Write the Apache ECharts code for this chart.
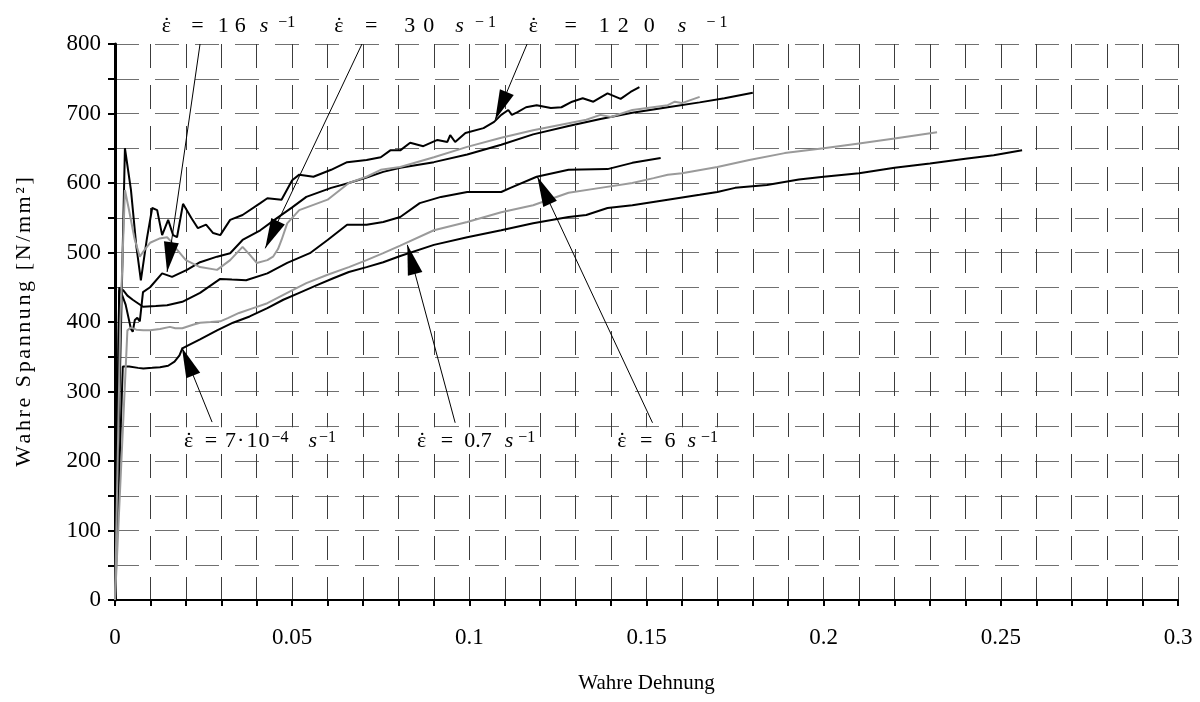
<!DOCTYPE html>
<html>
<head>
<meta charset="utf-8">
<script src="https://cdn.jsdelivr.net/npm/echarts@6/dist/echarts.min.js"></script>
<style>
  html, body { margin: 0; padding: 0; background: #fff; }
  #chart { width: 1200px; height: 702px; }
</style>
</head>
<body>
<div id="chart"></div>
<script>
// True stress-strain curves [Wahre Dehnung, Wahre Spannung N/mm²], one per strain rate
const curveRate7e4 = [
  [0, 0], [0.0022, 336], [0.004, 336], [0.0065, 334], [0.008, 333], [0.0105, 334], [0.0127, 335],
  [0.015, 337], [0.0168, 343], [0.0182, 352], [0.019, 362], [0.0205, 366], [0.024, 375], [0.0288, 388],
  [0.0333, 399], [0.038, 408], [0.043, 420], [0.0475, 432], [0.052, 442], [0.057, 453], [0.0616, 463],
  [0.066, 472], [0.071, 479], [0.0757, 486], [0.0805, 495], [0.09, 511], [0.0994, 522], [0.109, 532],
  [0.118, 542], [0.128, 551], [0.133, 554], [0.139, 564], [0.146, 568], [0.156, 576], [0.165, 583],
  [0.17, 587], [0.175, 593], [0.184, 597], [0.193, 605], [0.2, 609], [0.21, 614], [0.22, 622],
  [0.23, 628], [0.24, 635], [0.248, 640], [0.256, 647]
];
const curveRate0p7 = [
  [0, 0], [0.0035, 388], [0.0045, 392], [0.006, 389], [0.008, 388], [0.0099, 388], [0.0127, 390],
  [0.0155, 393], [0.017, 391], [0.019, 391], [0.022, 396], [0.024, 399], [0.027, 400], [0.0297, 401],
  [0.032, 406], [0.035, 413], [0.039, 420], [0.043, 427], [0.0486, 442], [0.054, 456], [0.06, 468],
  [0.066, 479], [0.071, 489], [0.0757, 499], [0.0805, 510], [0.09, 532], [0.0994, 544], [0.109, 558],
  [0.118, 568], [0.128, 586], [0.137, 593], [0.146, 600], [0.152, 607], [0.156, 612], [0.16, 614],
  [0.17, 623], [0.179, 633], [0.189, 643], [0.2, 650], [0.21, 657], [0.22, 664], [0.232, 673]
];
const curveRate6 = [
  [0, 0], [0.0012, 445], [0.0023, 446], [0.0035, 438], [0.005, 432], [0.0079, 422], [0.0115, 423],
  [0.0147, 424], [0.019, 429], [0.024, 442], [0.0297, 462], [0.033, 461], [0.037, 460], [0.043, 470],
  [0.0486, 485], [0.055, 499], [0.06, 518], [0.0655, 540], [0.071, 540], [0.0757, 544], [0.0805, 551],
  [0.086, 571], [0.092, 580], [0.0994, 587], [0.109, 587], [0.1116, 593], [0.119, 609], [0.128, 619],
  [0.139, 620], [0.146, 629], [0.154, 636]
];
const curveRate16 = [
  [0, 0], [0.0012, 450], [0.003, 425], [0.0045, 390], [0.005, 386], [0.0056, 403], [0.0063, 406],
  [0.007, 401], [0.0079, 443], [0.0099, 450], [0.0133, 470], [0.0161, 465], [0.0203, 475], [0.024, 486],
  [0.0288, 494], [0.0325, 499], [0.036, 518], [0.041, 532], [0.045, 547], [0.05, 565], [0.054, 580],
  [0.061, 593], [0.066, 600], [0.071, 608], [0.0757, 616], [0.0805, 622], [0.09, 630], [0.0994, 641],
  [0.109, 655], [0.118, 670], [0.128, 682], [0.137, 692], [0.146, 701], [0.156, 709], [0.165, 716],
  [0.172, 722], [0.18, 730]
];
const curveRate30 = [
  [0, 0], [0.0015, 400], [0.0028, 590], [0.004, 560], [0.0055, 520], [0.007, 494], [0.0085, 505],
  [0.0099, 514], [0.0125, 520], [0.0147, 522], [0.016, 515], [0.0175, 504], [0.02, 489], [0.024, 479],
  [0.0288, 475], [0.0325, 489], [0.036, 508], [0.038, 497], [0.04, 485], [0.043, 489], [0.0446, 494],
  [0.046, 505], [0.047, 518], [0.0486, 542], [0.052, 561], [0.06, 576], [0.066, 600], [0.071, 609],
  [0.075, 619], [0.0805, 623], [0.09, 637], [0.0994, 652], [0.109, 665], [0.118, 676], [0.128, 686],
  [0.133, 691], [0.137, 698], [0.14, 695], [0.146, 705], [0.156, 712], [0.158, 717], [0.16, 715],
  [0.165, 724]
];
const curveRate120 = [
  [0, 0], [0.0028, 650], [0.0045, 590], [0.006, 510], [0.0073, 460], [0.009, 520], [0.0105, 564],
  [0.0119, 561], [0.0133, 525], [0.015, 547], [0.0164, 525], [0.0175, 522], [0.0192, 570], [0.0215, 550],
  [0.0234, 535], [0.0257, 540], [0.0277, 528], [0.0297, 525], [0.0325, 547], [0.036, 554], [0.041, 571],
  [0.043, 578], [0.047, 576], [0.05, 604], [0.052, 612], [0.056, 609], [0.061, 619], [0.0655, 630],
  [0.071, 633], [0.075, 637], [0.0777, 647], [0.0805, 647], [0.0833, 658], [0.087, 653], [0.091, 662],
  [0.0938, 659], [0.0946, 669], [0.096, 659], [0.0989, 672], [0.104, 679], [0.107, 688], [0.109, 698],
  [0.111, 705], [0.112, 698], [0.1136, 702], [0.116, 709], [0.119, 712], [0.123, 708], [0.126, 709],
  [0.129, 717], [0.132, 722], [0.135, 717], [0.139, 729], [0.1427, 721], [0.1455, 731], [0.148, 738]
];

// Strain-rate annotations: text pieces, anchor of each text, and arrow from/to (data units)
const rateLabelParts = [
  ['ε', '=', '1', '6', 's', '−1'],
  ['ε', '=', '3', '0', 's', '−', '1'],
  ['ε', '=', '1', '2', '0', 's', '−', '1'],
  ['ε', '=', '7', '·', '1', '0', '−4', 's', '−1'],
  ['ε', '=', '0.7', 's', '−1'],
  ['ε', '=', '6', 's', '−1']
];
const labelStrain = [0.0126, 0.0613, 0.1162, 0.0189, 0.0847, 0.1412];
const labelStress = [827, 827, 827, 230, 230, 230];
const arrowFrom = [[0.024, 800], [0.0697, 800], [0.1163, 800], [0.0274, 256], [0.096, 255], [0.1517, 255]];
const arrowTo = [[0.0147, 472], [0.0424, 506], [0.1073, 691], [0.0189, 363], [0.0825, 511], [0.1192, 609]];

// Axis ticks and titles
const strainTicks = { min: 0, max: 0.3, step: 0.01, labelStep: 0.05 };
const stressTicks = { min: 0, max: 800, step: 50, labelStep: 100 };
const xTitle = 'Wahre Dehnung';
const yTitle = 'Wahre Spannung [N/mm²]';

const FONT = 'Liberation Serif';

// Per-piece styles and gaps (px) before each piece of the annotation texts
const labelPieceStyles = [
  ['e', 'm', 'm', 'm', 'i', 'u'],
  ['e', 'm', 'm', 'm', 'i', 'u', 'u'],
  ['e', 'm', 'm', 'm', 'm', 'i', 'u', 'u'],
  ['e', 'm', 'm', 'm', 'm', 'm', 'u', 'i', 'u'],
  ['e', 'm', 'm', 'i', 'u'],
  ['e', 'm', 'm', 'i', 'u']
];
const labelPieceGaps = [
  [0, 20, 14, 6, 14, 10],
  [0, 21, 27, 8, 21, 11, 4],
  [0, 26, 22, 8, 15, 23, 20, 4],
  [0, 11, 8, 1, 2, 1, 2, 20, 2],
  [0, 14, 11, 13, 5],
  [0, 13, 12, 12, 5]
];

// epsilon token is narrow so the following dot token lands centred above it
const rich = {
  e: { fontFamily: FONT, fontSize: 22, color: '#000', width: 1.3 },
  d: { fontFamily: FONT, fontSize: 22, color: '#000', width: 8.4 },
  m: { fontFamily: FONT, fontSize: 22, color: '#000' },
  i: { fontFamily: FONT, fontSize: 22, fontStyle: 'italic', color: '#000' },
  u: { fontFamily: FONT, fontSize: 16, color: '#000', verticalAlign: 'top' }
};
function richText(k) {
  let out = '';
  rateLabelParts[k].forEach((piece, j) => {
    const gap = labelPieceGaps[k][j];
    if (gap > 0) {
      const key = 'g' + gap;
      if (!rich[key]) rich[key] = { width: gap, fontFamily: FONT, fontSize: 22 };
      out += '{' + key + '| }';
    }
    out += '{' + labelPieceStyles[k][j] + '|' + piece + '}';
    if (labelPieceStyles[k][j] === 'e') out += '{d|˙}';
  });
  return out;
}
const labelTexts = rateLabelParts.map((_, k) => richText(k));

// Letter-spaced title built from per-character rich tokens
function spacedTitle(text, size, extra) {
  const ctx = document.createElement('canvas').getContext('2d');
  ctx.font = size + 'px "' + FONT + '"';
  const styles = {};
  let out = '';
  Array.from(text).forEach((ch, j) => {
    const key = 'c' + j;
    styles[key] = { fontFamily: FONT, fontSize: size, color: '#000', width: ctx.measureText(ch).width + extra };
    out += '{' + key + '|' + ch + '}';
  });
  return { text: out, rich: styles };
}
const yTitleSpaced = spacedTitle(yTitle, 22, 2.6);

function onStep(v, step) {
  const r = v / step;
  return Math.abs(r - Math.round(r)) < 1e-6;
}

const blackLine = { color: '#000', width: 2 };
const greyLine = { color: '#9a9a9a', width: 2 };
function curve(name, data, style) {
  return {
    name, type: 'line', data, showSymbol: false, symbol: 'none',
    lineStyle: style, itemStyle: { color: style.color },
    silent: true, animation: false, z: 3
  };
}

const chart = echarts.init(document.getElementById('chart'), null, { renderer: 'canvas' });
chart.setOption({
  backgroundColor: '#fff',
  animation: false,
  grid: { left: 115, right: 22, top: 44, bottom: 102, containLabel: false, outerBoundsMode: 'none' },
  xAxis: {
    type: 'value',
    min: strainTicks.min, max: strainTicks.max, interval: strainTicks.step,
    name: xTitle, nameLocation: 'middle', nameGap: 73,
    nameTextStyle: { fontFamily: FONT, fontSize: 21, color: '#000' },
    axisLine: { show: true, onZero: false, lineStyle: { color: '#000', width: 2 } },
    axisTick: { show: true, length: 6, lineStyle: { color: '#000', width: 2 } },
    axisLabel: {
      margin: 26, fontFamily: FONT, fontSize: 23, color: '#000',
      formatter: v => onStep(v, strainTicks.labelStep) ? String(Math.round(v * 100) / 100) : ''
    },
    splitLine: { show: true, lineStyle: { color: '#3c3c3c', width: 1, type: [24, 17] } }
  },
  yAxis: {
    type: 'value',
    min: stressTicks.min, max: stressTicks.max, interval: stressTicks.step,
    name: yTitleSpaced.text, nameLocation: 'middle', nameGap: 80,
    nameTextStyle: { fontFamily: FONT, fontSize: 22, color: '#000', rich: yTitleSpaced.rich },
    axisLine: { show: true, onZero: false, lineStyle: { color: '#000', width: 3 } },
    axisTick: { show: true, length: 7, lineStyle: { color: '#000', width: 2 } },
    axisLabel: {
      margin: 14, fontFamily: FONT, fontSize: 23, color: '#000',
      formatter: v => onStep(v, stressTicks.labelStep) ? String(Math.round(v)) : ''
    },
    splitLine: { show: true, lineStyle: { color: '#707070', width: 1, type: [24, 16] } }
  },
  series: [
    curve('7·10⁻⁴ s⁻¹', curveRate7e4, blackLine),
    curve('6 s⁻¹', curveRate6, blackLine),
    curve('16 s⁻¹', curveRate16, blackLine),
    curve('120 s⁻¹', curveRate120, blackLine),
    curve('0.7 s⁻¹', curveRate0p7, greyLine),
    curve('30 s⁻¹', curveRate30, greyLine),
    {
      name: 'annotations', type: 'scatter', clip: false, silent: true, animation: false, z: 5,
      symbolSize: 0,
      itemStyle: { opacity: 1, color: '#000' },
      data: labelStrain.map((x, k) => [x, labelStress[k], k]),
      label: {
        show: true, position: 'right', distance: 0, color: '#000', opacity: 1,
        formatter: p => labelTexts[p.value[2]],
        rich, backgroundColor: '#fff', padding: [3, 2, 1, 2]
      },
      markLine: {
        silent: true, animation: false, symbol: ['none', 'none'],
        label: { show: false },
        lineStyle: { color: '#000', width: 1, type: 'solid', opacity: 1 },
        itemStyle: { color: '#000' },
        emphasis: { disabled: true },
        data: arrowFrom.map((from, k) => [
          { coord: from, symbol: 'none' },
          { coord: arrowTo[k], symbol: 'triangle', symbolSize: [15, 30], symbolOffset: [0, 15] }
        ])
      }
    }
  ]
});
</script>
</body>
</html>
